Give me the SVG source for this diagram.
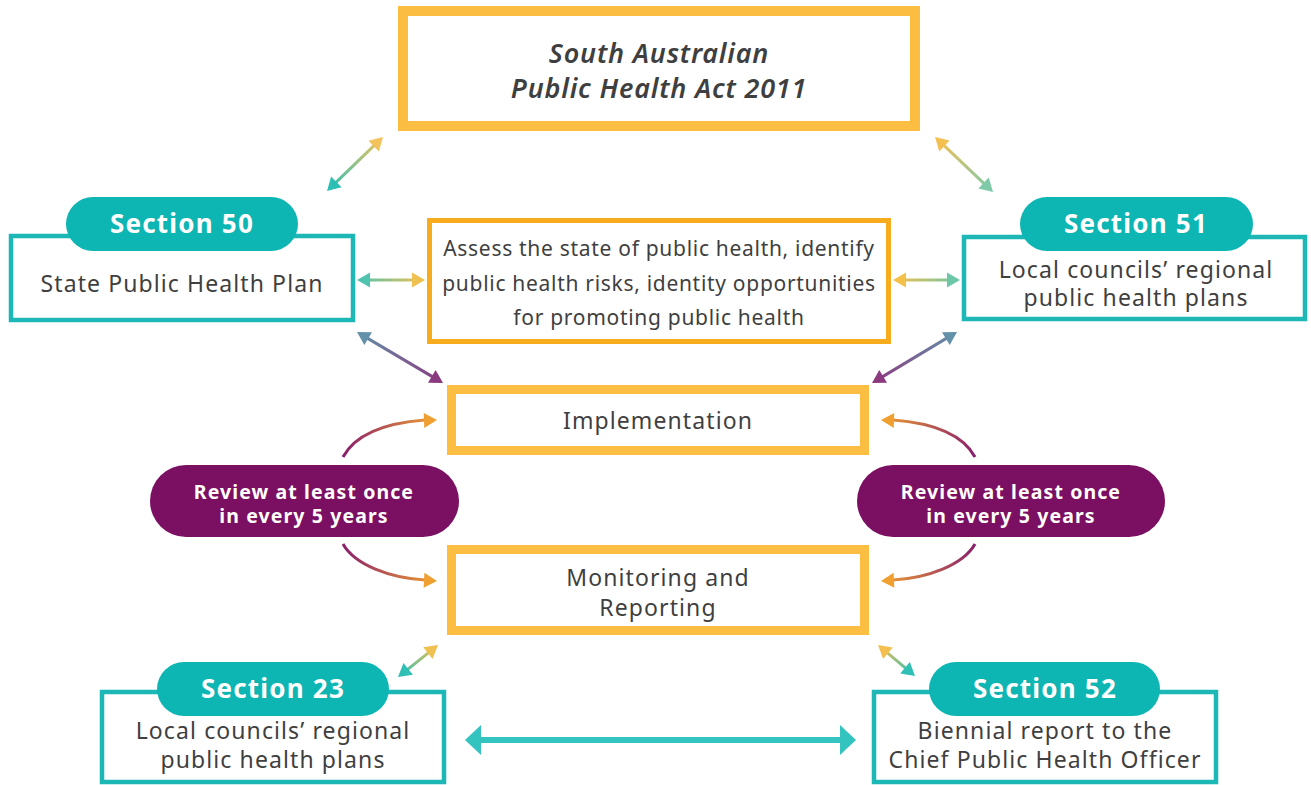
<svg xmlns="http://www.w3.org/2000/svg" xmlns:xlink="http://www.w3.org/1999/xlink" width="1311" height="785" viewBox="0 0 1311 785">
  <style>
    .txt { font-family: "Noto Sans", "Liberation Sans", sans-serif; fill: #3f3f3f; text-anchor: middle; }
    .body { font-size: 23px; letter-spacing: 1.1px; }
    .small { font-size: 21px; letter-spacing: 0.7px; }
    .title { font-size: 27px; font-style: italic; font-weight: 600; letter-spacing: 0.8px; }
    .sec { font-family: "Noto Sans", "Liberation Sans", sans-serif; font-size: 26px; font-weight: 700; fill: #ffffff; text-anchor: middle; letter-spacing: 1.2px; }
    .rev { font-family: "Noto Sans", "Liberation Sans", sans-serif; font-size: 19.5px; font-weight: 700; fill: #ffffff; text-anchor: middle; letter-spacing: 1.1px; }
    .tealbox { fill: #ffffff; stroke: #1db8b6; stroke-width: 4.5; }
    .pill { fill: #0db5b3; }
    .goldbox { fill: #ffffff; stroke: #fbbd42; stroke-width: 9; }
    .purple { fill: #7b0f62; }
    .ln { fill: none; stroke-width: 3; }
  </style>
  <defs>
    <!-- arrowhead shapes, tip at origin pointing along +x -->
    <path id="head" d="M0,0 L-13,-7.5 L-13,7.5 Z"/>
    <path id="bighead" d="M0,0 L-16,-15 L-16,15 Z"/>
    <linearGradient id="g1" gradientUnits="userSpaceOnUse" x1="327" y1="191" x2="383" y2="137"><stop offset="0" stop-color="#2ebfb4"/><stop offset="1" stop-color="#f2c35c"/></linearGradient>
    <linearGradient id="g2" gradientUnits="userSpaceOnUse" x1="935" y1="137" x2="993" y2="192"><stop offset="0" stop-color="#f5c052"/><stop offset="1" stop-color="#7dc9a8"/></linearGradient>
    <linearGradient id="g3" gradientUnits="userSpaceOnUse" x1="357" y1="280" x2="425" y2="280"><stop offset="0" stop-color="#52c2b0"/><stop offset="1" stop-color="#f0c050"/></linearGradient>
    <linearGradient id="g4" gradientUnits="userSpaceOnUse" x1="893" y1="280" x2="960" y2="280"><stop offset="0" stop-color="#f5c04a"/><stop offset="1" stop-color="#6cc6a8"/></linearGradient>
    <linearGradient id="g5" gradientUnits="userSpaceOnUse" x1="357" y1="332" x2="443" y2="383"><stop offset="0" stop-color="#6391aa"/><stop offset="1" stop-color="#8b3a7f"/></linearGradient>
    <linearGradient id="g6" gradientUnits="userSpaceOnUse" x1="957" y1="332" x2="872" y2="383"><stop offset="0" stop-color="#6391aa"/><stop offset="1" stop-color="#8b3a7f"/></linearGradient>
    <linearGradient id="g7" gradientUnits="userSpaceOnUse" x1="398" y1="677" x2="438" y2="645"><stop offset="0" stop-color="#2fbfb5"/><stop offset="1" stop-color="#f0c050"/></linearGradient>
    <linearGradient id="g8" gradientUnits="userSpaceOnUse" x1="878" y1="645" x2="915" y2="676"><stop offset="0" stop-color="#f3c050"/><stop offset="1" stop-color="#2fbfb5"/></linearGradient>
    <linearGradient id="gcl" gradientUnits="userSpaceOnUse" x1="343" y1="0" x2="436" y2="0"><stop offset="0" stop-color="#8a1f6c"/><stop offset="1" stop-color="#f0a030"/></linearGradient>
    <linearGradient id="gcr" gradientUnits="userSpaceOnUse" x1="975" y1="0" x2="882" y2="0"><stop offset="0" stop-color="#8a1f6c"/><stop offset="1" stop-color="#f0a030"/></linearGradient>
  </defs>

  <rect width="1311" height="785" fill="#ffffff"/>

  <!-- connectors -->
  <g id="connectors">
    <line class="ln" stroke="url(#g1)" x1="334.2" y1="184.1" x2="375.8" y2="143.9"/>
    <use href="#head" fill="#f2c35c" transform="translate(383,137) rotate(-44)"/>
    <use href="#head" fill="#2ebfb4" transform="translate(327,191) rotate(136)"/>

    <line class="ln" stroke="url(#g2)" x1="942.3" y1="143.9" x2="985.7" y2="185.1"/>
    <use href="#head" fill="#7dc9a8" transform="translate(993,192) rotate(43.5)"/>
    <use href="#head" fill="#f5c052" transform="translate(935,137) rotate(-136.5)"/>

    <line class="ln" stroke="url(#g3)" x1="367" y1="280" x2="415" y2="280"/>
    <use href="#head" fill="#f0c050" transform="translate(425,280)"/>
    <use href="#head" fill="#52c2b0" transform="translate(357,280) rotate(180)"/>

    <line class="ln" stroke="url(#g4)" x1="903" y1="280" x2="950" y2="280"/>
    <use href="#head" fill="#6cc6a8" transform="translate(960,280)"/>
    <use href="#head" fill="#f5c04a" transform="translate(893,280) rotate(180)"/>

    <line class="ln" stroke="url(#g5)" x1="365.6" y1="337.1" x2="434.4" y2="377.9"/>
    <use href="#head" fill="#8b3a7f" transform="translate(443,383) rotate(30.7)"/>
    <use href="#head" fill="#6391aa" transform="translate(357,332) rotate(-149.3)"/>

    <line class="ln" stroke="url(#g6)" x1="948.4" y1="337.1" x2="880.6" y2="377.9"/>
    <use href="#head" fill="#8b3a7f" transform="translate(872,383) rotate(149)"/>
    <use href="#head" fill="#6391aa" transform="translate(957,332) rotate(-31)"/>

    <line class="ln" stroke="url(#g7)" x1="405.8" y1="670.8" x2="430.2" y2="651.3"/>
    <use href="#head" fill="#f0c050" transform="translate(438,645) rotate(-38.7)"/>
    <use href="#head" fill="#2fbfb5" transform="translate(398,677) rotate(141.3)"/>

    <line class="ln" stroke="url(#g8)" x1="885.7" y1="651.4" x2="907.3" y2="669.6"/>
    <use href="#head" fill="#2fbfb5" transform="translate(915,676) rotate(40)"/>
    <use href="#head" fill="#f3c050" transform="translate(878,645) rotate(-140)"/>

    <line stroke="#33c4c0" stroke-width="6" x1="478" y1="740" x2="843" y2="740"/>
    <use href="#bighead" fill="#33c4c0" transform="translate(856,740)"/>
    <use href="#bighead" fill="#33c4c0" transform="translate(465,740) rotate(180)"/>

    <!-- review cycle curves -->
    <path class="ln" stroke="url(#gcl)" d="M343,457 C355,435 385,423 425,420"/>
    <use href="#head" fill="#f0a030" transform="translate(437,420) rotate(-2)"/>
    <path class="ln" stroke="url(#gcl)" d="M343,544 C355,565 390,578 425,580"/>
    <use href="#head" fill="#f0a030" transform="translate(437,581) rotate(3)"/>
    <path class="ln" stroke="url(#gcr)" d="M975,457 C963,435 933,423 893,420"/>
    <use href="#head" fill="#f0a030" transform="translate(881,420) rotate(182)"/>
    <path class="ln" stroke="url(#gcr)" d="M975,544 C963,565 928,578 893,580"/>
    <use href="#head" fill="#f0a030" transform="translate(881,581) rotate(177)"/>
  </g>

  <!-- Act -->
  <g id="act">
    <rect x="403" y="11" width="512" height="115" fill="#ffffff" stroke="#fbbd42" stroke-width="10"/>
    <text class="txt title" x="659" y="63">South Australian</text>
    <text class="txt title" x="659" y="98">Public Health Act 2011</text>
  </g>

  <!-- Assess -->
  <g id="assess">
    <rect x="429.5" y="220.5" width="459" height="121" fill="#ffffff" stroke="#f7ac1d" stroke-width="5"/>
    <text class="txt small" x="659" y="256">Assess the state of public health, identify</text>
    <text class="txt small" x="659" y="291">public health risks, identity opportunities</text>
    <text class="txt small" x="659" y="325">for promoting public health</text>
  </g>

  <!-- Section 50 -->
  <g id="section50">
    <rect class="tealbox" x="11" y="236" width="342" height="84"/>
    <rect class="pill" x="66" y="197" width="232" height="54" rx="27"/>
    <text class="sec" x="182" y="233">Section 50</text>
    <text class="txt body" x="182" y="292">State Public Health Plan</text>
  </g>

  <!-- Section 51 -->
  <g id="section51">
    <rect class="tealbox" x="964" y="237" width="341" height="82"/>
    <rect class="pill" x="1020" y="197" width="233" height="54" rx="27"/>
    <text class="sec" x="1136" y="233">Section 51</text>
    <text class="txt body" x="1136" y="278">Local councils’ regional</text>
    <text class="txt body" x="1136" y="306">public health plans</text>
  </g>

  <!-- Implementation -->
  <g id="implementation">
    <rect class="goldbox" x="451.5" y="389.5" width="413" height="61"/>
    <text class="txt body" x="658" y="429">Implementation</text>
  </g>

  <!-- Review pills -->
  <g id="review-left">
    <rect class="purple" x="150" y="465" width="309" height="72" rx="36"/>
    <text class="rev" x="304" y="499">Review at least once</text>
    <text class="rev" x="304" y="523">in every 5 years</text>
  </g>
  <g id="review-right">
    <rect class="purple" x="857" y="465" width="308" height="72" rx="36"/>
    <text class="rev" x="1011" y="499">Review at least once</text>
    <text class="rev" x="1011" y="523">in every 5 years</text>
  </g>

  <!-- Monitoring -->
  <g id="monitoring">
    <rect class="goldbox" x="451.5" y="549.5" width="413" height="81"/>
    <text class="txt body" x="658" y="586">Monitoring and</text>
    <text class="txt body" x="658" y="616">Reporting</text>
  </g>

  <!-- Section 23 -->
  <g id="section23">
    <rect class="tealbox" x="102" y="692" width="342" height="90"/>
    <rect class="pill" x="157" y="662" width="232" height="54" rx="27"/>
    <text class="sec" x="273" y="698">Section 23</text>
    <text class="txt body" x="273" y="739">Local councils’ regional</text>
    <text class="txt body" x="273" y="768">public health plans</text>
  </g>

  <!-- Section 52 -->
  <g id="section52">
    <rect class="tealbox" x="874" y="692" width="342" height="90"/>
    <rect class="pill" x="929" y="662" width="231" height="54" rx="27"/>
    <text class="sec" x="1045" y="698">Section 52</text>
    <text class="txt body" x="1045" y="739">Biennial report to the</text>
    <text class="txt body" x="1045" y="768">Chief Public Health Officer</text>
  </g>
</svg>
